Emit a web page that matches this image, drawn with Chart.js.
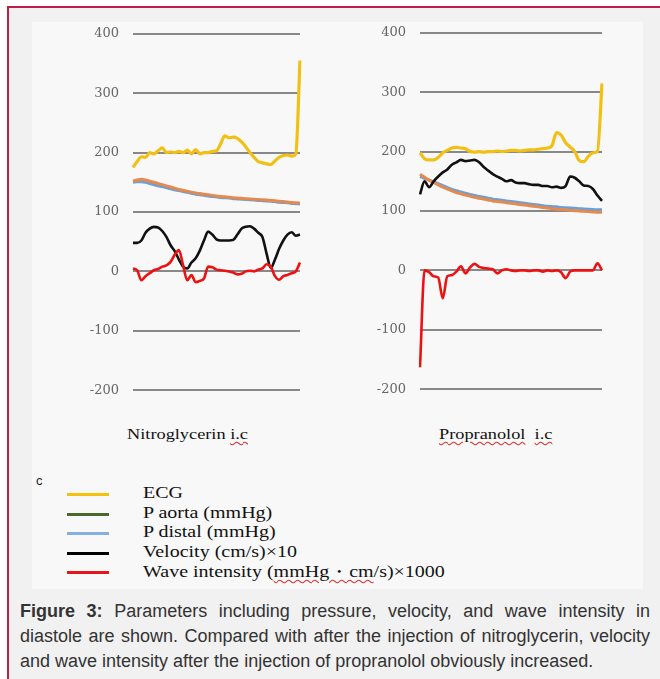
<!DOCTYPE html>
<html>
<head>
<meta charset="utf-8">
<script src="https://cdn.jsdelivr.net/npm/chart.js@4.4.0/dist/chart.umd.min.js"></script>
<style>
  body { margin: 0; width: 660px; height: 679px; overflow: hidden; background: #fff; position: relative; }
  #frame { position: absolute; left: 7px; top: 6px; width: 700px; height: 700px;
           border-top: 2px solid #c41c48; border-left: 2px solid #c41c48; background: #f1f1f1; }
  #fig { position: absolute; left: 32px; top: 22px; width: 611px; height: 567px; background: #f8f8f8; }
  canvas { position: absolute; }
  .title { position: absolute; top: 426px; font: 15px "Liberation Serif", serif; color: #111; white-space: nowrap;
           transform: scaleX(1.22); transform-origin: left center; }
  .sq { text-decoration: underline wavy #e03030; text-decoration-thickness: 1px; text-underline-offset: 2px; }
  #c { position: absolute; left: 36px; top: 473px; font: 13px "Liberation Sans", sans-serif; color: #222; }
  .row { position: absolute; left: 67px; height: 20px; font: 16px "Liberation Serif", serif; color: #111; white-space: nowrap; }
  .row > i { position: absolute; left: 0; top: 9px; width: 42px; height: 3px; }
  .row > span { position: absolute; left: 76px; top: 0; transform: scaleX(1.25); transform-origin: left center; }
  #caption { position: absolute; left: 20px; top: 599px; width: 630px; font: 18px "Liberation Sans", Arial, sans-serif;
             color: #333; line-height: 25px; }
  #caption div { text-align: justify; text-align-last: justify; white-space: nowrap; }
  #caption div.last { text-align-last: left; }
</style>
</head>
<body>
<div id="frame"></div>
<div id="fig"></div>
<canvas id="nitro" width="250" height="400" style="left:60px;top:12px"></canvas>
<canvas id="prop" width="270" height="400" style="left:340px;top:11px"></canvas>

<div class="title" style="left:127px">Nitroglycerin <span class="sq">i.c</span></div>
<div class="title" style="left:439px"><span class="sq">Propranolol</span>&nbsp;&nbsp;<span class="sq">i.c</span></div>

<div id="c">c</div>
<div id="legend"></div>

<div id="caption">
  <div><b>Figure 3:</b> Parameters including pressure, velocity, and wave intensity in</div>
  <div>diastole are shown. Compared with after the injection of nitroglycerin, velocity</div>
  <div class="last">and wave intensity after the injection of propranolol obviously increased.</div>
</div>

<script>
// samples along diastole (x positions, 41 per panel)
const samples = Array.from({ length: 41 }, (_, i) => i);
const yTicks = [400, 300, 200, 100, 0, -100, -200];

// Nitroglycerin i.c
const ecgNitro = [175, 185, 193, 192, 200, 198, 203, 208, 200, 201, 200, 202, 200, 204, 198, 205, 198, 200, 200, 202, 203,
                  215, 228, 225, 226, 224, 218, 210, 200, 192, 185, 183, 181, 180, 186, 192, 195, 196, 194, 198, 355];
const aortaNitro = [152, 154, 155, 154, 152, 150, 148, 146, 144, 142, 140, 138, 136.5, 135, 133.5, 132, 131, 130, 129, 128, 127,
                    126, 125.5, 125, 124, 123.5, 123, 122.5, 122, 121.5, 121, 120.5, 120, 119.5, 119, 118, 117.5, 117, 116, 115.5, 115];
const distalNitro = [150, 151, 151, 150, 148, 146, 144, 143, 141, 139, 137.5, 136, 134.5, 133, 131.5, 130, 129, 128, 127, 126, 125.5,
                     124.5, 124, 123.5, 122.5, 122, 121.5, 121, 120.5, 120, 119.5, 119, 118.5, 118, 117.5, 116.5, 116, 115.5, 114.5, 114, 113.5];
const velNitro = [48, 48, 52, 65, 72, 75, 74, 68, 58, 44, 34, 20, 8, 5, 15, 22, 35, 52, 67, 62, 54,
                  52, 52, 52, 53, 62, 72, 75, 76, 72, 65, 58, 30, 6, 20, 38, 52, 62, 66, 60, 62];
const waveNitro = [5, 2, -15, -8, -3, 2, 4, 8, 10, 16, 28, 36, 10, -15, -6, -18, -16, -12, 8, 7, 3,
                   2, 1, 0, -2, -5, -4, 0, 1, 0, 3, 5, 12, 8, -8, -14, -8, -6, -3, 0, 15];

// Propranolol i.c
const ecgProp = [198, 188, 186, 186, 190, 198, 202, 206, 207, 206, 205, 200, 199, 200, 199, 200, 200, 201, 200, 201, 202,
                 202, 201, 202, 203, 203, 204, 205, 206, 210, 232, 228, 215, 208, 200, 185, 183, 192, 198, 200, 315];
const aortaProp = [162, 157, 152, 148, 144, 140, 137, 134, 131, 129, 127, 125, 123, 121.5, 120, 118.5, 117, 116, 115, 114, 113,
                   112, 111, 110, 109, 108, 107, 106, 105, 104, 103, 102.5, 102, 101, 100.5, 100, 99.5, 99, 98.5, 98, 98];
const distalProp = [158, 155, 152, 149, 146, 142.5, 139.5, 136.5, 134, 132, 130, 128, 126, 124.5, 123, 121.5, 120, 119, 118, 117, 116,
                    115, 114, 113, 112, 111, 110, 109, 108, 107.5, 107, 106, 105.5, 105, 104.5, 104, 103.5, 103, 102.5, 102, 102];
const velProp = [128, 150, 140, 150, 158, 165, 170, 178, 182, 186, 184, 185, 186, 182, 174, 168, 162, 158, 154, 150, 152,
                 148, 147, 147, 145, 144, 144, 142, 142, 140, 141, 139, 142, 158, 156, 150, 143, 142, 137, 126, 117];
const waveProp = [-163, 0, -3, -10, -12, -47, -10, -8, -2, 7, -5, 5, 11, 6, 4, 3, 2, -5, 0, 2, 0,
                  -1, 0, 0, -1, 0, 0, -2, 0, -1, 0, -3, -13, -2, 0, 0, 0, 0, 0, 12, 0];

const legendItems = [
  { label: "ECG", color: "#f4c20d" },
  { label: "P aorta (mmHg)", color: "#4a6a2b" },
  { label: "P distal (mmHg)", color: "#86b1de" },
  { label: "Velocity (cm/s)×10", color: "#000000" },
  { label: "Wave intensity (mmHg・cm/s)×1000", color: "#e8141b" }
];

const legend = document.getElementById("legend");
legendItems.forEach((item, i) => {
  const row = document.createElement("div");
  row.className = "row";
  row.style.top = (484 + i * 19.5) + "px";
  let text = item.label;
  if (i === 4) text = 'Wave intensity (<u class="sq" style="text-decoration-line:underline">mmHg・cm</u>/s)×1000';
  row.innerHTML = `<i style="background:${item.color}"></i><span>${text}</span>`;
  legend.appendChild(row);
});

const makeChart = (id, series, axisWidth, padRight) => {
  new Chart(document.getElementById(id), {
    type: "line",
    data: {
      labels: samples,
      datasets: [
        { data: series[0], borderColor: "#f2c014", borderWidth: 3.2, order: 0 },
        { data: series[4], borderColor: "#ee1111", borderWidth: 2.6, order: 1, tension: 0 },
        { data: series[3], borderColor: "#111111", borderWidth: 2.6, order: 2 },
        { data: series[1], borderColor: "#e58a4e", borderWidth: 3, order: 3 },
        { data: series[2], borderColor: "#6c9fd6", borderWidth: 3, order: 4 }
      ]
    },
    options: {
      responsive: false,
      animation: false,
      devicePixelRatio: 1,
      layout: { padding: { top: 13, bottom: 12, right: padRight, left: 0 } },
      elements: { point: { radius: 0 }, line: { cubicInterpolationMode: "monotone" } },
      plugins: { legend: { display: false }, tooltip: { enabled: false } },
      scales: {
        x: { type: "category", display: false, offset: false },
        y: {
          min: -200, max: 400,
          afterBuildTicks: (scale) => { scale.ticks = yTicks.map(v => ({ value: v })); },
          afterFit: (scale) => { scale.width = axisWidth; },
          border: { display: false },
          grid: { color: "#888888", lineWidth: 2, drawTicks: false },
          ticks: { padding: 14, color: "#666666", font: { family: "'DejaVu Serif', serif", size: 13 } }
        }
      }
    }
  });
};

makeChart("nitro", [ecgNitro, aortaNitro, distalNitro, velNitro, waveNitro], 73, 10);
makeChart("prop", [ecgProp, aortaProp, distalProp, velProp, waveProp], 80, 8);
</script>
</body>
</html>
